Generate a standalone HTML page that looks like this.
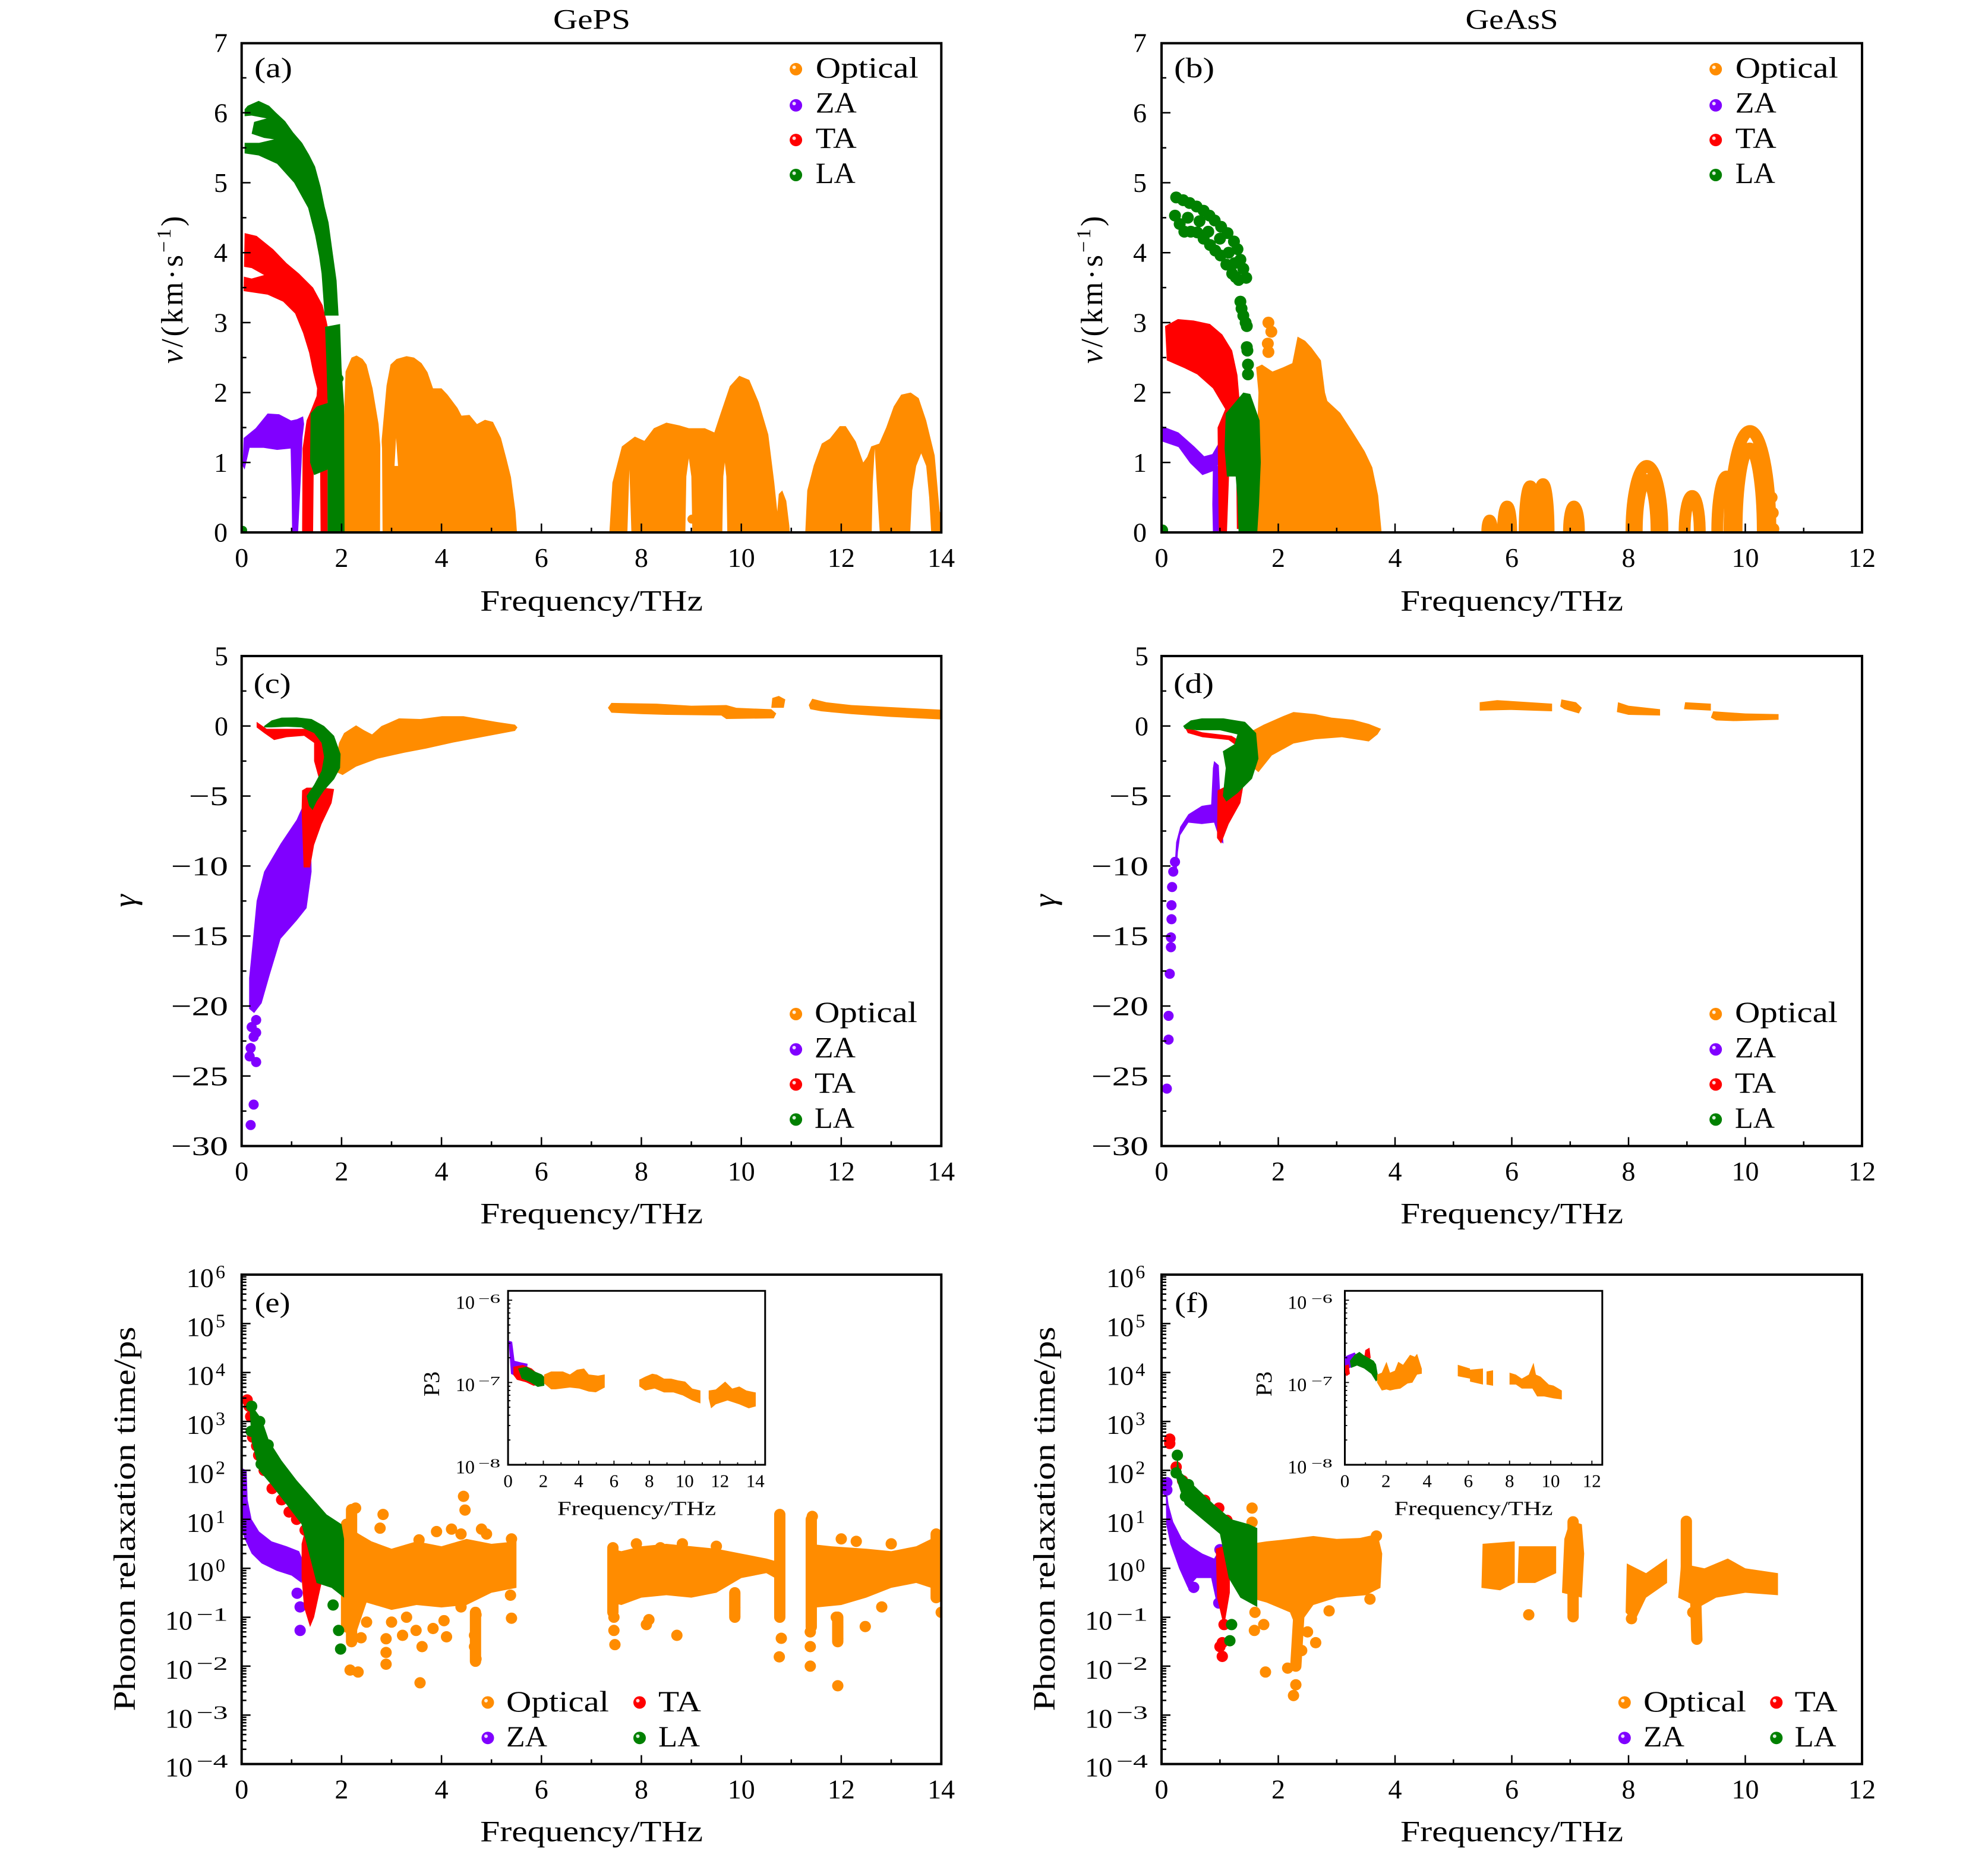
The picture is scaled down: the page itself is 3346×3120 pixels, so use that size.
<!DOCTYPE html>
<html><head><meta charset="utf-8">
<style>
html,body{margin:0;padding:0;background:#fff}
svg{display:block}
text{font-family:"Liberation Serif","DejaVu Serif",serif;fill:#000}
.d{fill:none;stroke-linecap:round;stroke-linejoin:round;vector-effect:non-scaling-stroke}
.o{stroke:#FF8C00}.p{stroke:#8000FF}.r{stroke:#FF0000}.g{stroke:#008000}
.fo{fill:#FF8C00}.fp{fill:#8000FF}.fr{fill:#FF0000}.fg{fill:#008000}.fw{fill:#fff}
.ax{fill:none;stroke:#000;stroke-width:4}
.axi{fill:#fff;stroke:#000;stroke-width:3}
.tk{fill:none;stroke:#000;stroke-width:2.5}
.tki{fill:none;stroke:#000;stroke-width:1.8}
.t46{font-size:46px}
.lg{font-size:50px}
.hl{fill:#fff;opacity:.85}
</style></head><body>
<svg width="3346" height="3120" viewBox="0 0 3346 3120" xmlns="http://www.w3.org/2000/svg">
<defs>
<clipPath id="ca"><rect x="406.7" y="72.7" width="1177.6" height="823.3"/></clipPath>
<clipPath id="cb"><rect x="1955" y="72.7" width="1179" height="823.3"/></clipPath>
<clipPath id="cc"><rect x="406.7" y="1104" width="1177.6" height="824.6"/></clipPath>
<clipPath id="cd"><rect x="1955" y="1104" width="1179" height="824.6"/></clipPath>
<clipPath id="ce"><rect x="406.7" y="2145" width="1177.6" height="823.6"/></clipPath>
<clipPath id="cf"><rect x="1955" y="2145" width="1179" height="823.6"/></clipPath>
<path id="yta" class="tk" d="M0 778.3h15M0 660.6h15M0 542.9h15M0 425.2h15M0 307.5h15M0 189.8h15M0 837.2h8M0 719.5h8M0 601.8h8M0 484h8M0 366.4h8M0 248.7h8M0 131h8"/>
<path id="ytc" class="tk" d="M0 1221.8h15M0 1339.6h15M0 1457.4h15M0 1575.2h15M0 1693h15M0 1810.8h15M0 1162.9h8M0 1280.7h8M0 1398.5h8M0 1516.3h8M0 1634.1h8M0 1751.9h8M0 1869.7h8"/>
<path id="yte" class="tk" d="M0 2227.4h15M0 2309.7h15M0 2392.1h15M0 2474.4h15M0 2556.8h15M0 2639.2h15M0 2721.6h15M0 2803.9h15M0 2886.3h15"/>
<path id="dec" class="tk" d="M0 -24.8h8M0 -39.3h8M0 -49.6h8M0 -57.6h8M0 -64.1h8M0 -69.6h8M0 -74.4h8M0 -78.6h8"/>
<path id="xta" class="tk" d="M574.9 0v-15M743.1 0v-15M911.3 0v-15M1079.5 0v-15M1247.7 0v-15M1415.9 0v-15M490.8 0v-8M659 0v-8M827.2 0v-8M995.4 0v-8M1163.6 0v-8M1331.8 0v-8M1500 0v-8"/>
<path id="xtb" class="tk" d="M2151.5 0v-15M2348 0v-15M2544.5 0v-15M2741 0v-15M2937.5 0v-15M2053.3 0v-8M2249.8 0v-8M2446.3 0v-8M2642.8 0v-8M2839.3 0v-8M3035.8 0v-8"/>
<path id="yti" class="tki" d="M0 2188h7M0 2326.5h7M0 2284.8h4M0 2260.4h4M0 2243.1h4M0 2229.7h4M0 2218.7h4M0 2209.5h4M0 2201.4h4M0 2194.3h4M0 2423.3h4M0 2398.9h4M0 2381.6h4M0 2368.2h4M0 2357.2h4M0 2348h4M0 2339.9h4M0 2332.8h4"/>
</defs>

<!-- ===== Titles ===== -->
<text x="931" y="48.7" font-size="48" textLength="130" lengthAdjust="spacingAndGlyphs">GePS</text>
<text x="2466.5" y="48.7" font-size="48" textLength="156" lengthAdjust="spacingAndGlyphs">GeAsS</text>

<!-- ===== Panel A ===== -->
<g clip-path="url(#ca)"><g transform="translate(406.7 896) scale(84.1 -117.7)">
<path class="fo" d="M2.03 0L2.04 1.5L2.08 2.3L2.2 2.5L2.3 2.53L2.42 2.48L2.5 2.4L2.62 2.06L2.74 1.55L2.78 1.2L2.8 1.3L2.9 2.1L2.98 2.4L3.1 2.48L3.3 2.52L3.45 2.5L3.6 2.42L3.72 2.29L3.83 2.06L4 2.06L4.12 1.97L4.32 1.78L4.4 1.67L4.56 1.68L4.71 1.55L4.87 1.61L5.03 1.58L5.19 1.35L5.3 1.05L5.39 0.79L5.48 0.3L5.51 0Z M7.36 0L7.42 0.71L7.61 1.23L7.87 1.37L8.06 1.31L8.25 1.49L8.5 1.57L8.76 1.53L8.95 1.49L9.27 1.49L9.46 1.43L9.58 1.69L9.77 2.09L9.96 2.24L10.16 2.18L10.35 1.86L10.54 1.4L10.66 0.71L10.72 0.3L10.75 0.55L10.82 0.6L10.9 0.45L10.96 0.1L10.97 0Z M11.28 0L11.32 0.6L11.45 0.96L11.61 1.27L11.77 1.34L11.97 1.52L12.09 1.52L12.29 1.3L12.44 1L12.52 1.08L12.6 1.23L12.76 1.27L12.9 1.5L13.05 1.8L13.2 1.97L13.39 2L13.55 1.92L13.7 1.6L13.87 1.1L13.97 0.3L14.1 0.14L14.1 0Z"/>
<path class="fw" d="M2.77 0L2.775 1.3L2.79 1.45L2.81 1.2L2.82 0Z M8.88 0L8.9 0.8L8.95 1.06L9 0.8L9.02 0Z M9.62 0L9.64 0.8L9.67 1L9.7 0.8L9.72 0Z M13.38 0L13.42 0.6L13.5 0.95L13.6 1.13L13.7 0.95L13.76 0.5L13.8 0Z M12.61 0L12.63 0.7L12.67 1.2L12.71 0.7L12.77 0Z M3.06 0.95L3.09 1.35L3.13 0.95Z M7.72 0L7.76 0.9L7.8 0Z"/>
<path class="d o" stroke-width="15" d="M9.01 0.19h0.001"/>
<path class="fp" d="M0.02 0.95L0.04 1.35L0.28 1.49L0.52 1.7L0.75 1.69L0.99 1.6L1.11 1.62L1.23 1.66L1.25 1.55L1.2 1.25L0.99 1.2L0.71 1.18L0.44 1.21L0.16 1.21L0.06 0.9Z M0.99 1.6L1.23 1.6L1.2 1L1.13 0L1.01 0L1 0.6L0.98 1.2Z"/>
<path class="fr" d="M0.06 4.28L0.3 4.24L0.63 4.05L0.9 3.85L1.15 3.7L1.43 3.5L1.62 3.25L1.7 3.02L1.78 2.74L1.84 2.45L1.87 2.17L1.85 1.95L1.72 1.9L1.72 0L1.58 0L1.57 1L1.56 1.6L1.45 1.5L1.43 0L1.21 0L1.22 1.2L1.3 1.6L1.39 1.75L1.5 1.95L1.51 2.06L1.43 2.29L1.35 2.57L1.23 2.85L1.07 3.13L0.83 3.3L0.52 3.4L0.04 3.45Z"/>
<path class="fw" d="M0.03 3.8L0.2 3.78L0.45 3.68L0.2 3.63L0.03 3.66Z"/>
<path class="fg" d="M0.06 6.05L0.12 6.1L0.34 6.17L0.55 6.1L0.69 6L0.87 5.88L1.03 5.72L1.21 5.57L1.35 5.4L1.47 5.23L1.58 4.94L1.66 4.66L1.74 4.43L1.82 4.01L1.9 3.6L1.94 3.1L1.66 3.1L1.64 3.3L1.6 3.7L1.55 3.95L1.47 4.25L1.33 4.64L1.05 5L0.71 5.27L0.34 5.39L0.06 5.42Z M1.67 2.94L1.97 2.98L2 2.35L2.05 1.8L2.06 0L1.72 0L1.72 1.85L1.7 2.35Z M1.38 1.7L1.5 1.8L1.72 1.85L1.72 0.9L1.45 0.82L1.37 1Z"/>
<path class="fw" d="M0.05 5.95L0.2 5.96L0.5 5.92L0.25 5.87L0.2 5.7L0.45 5.64L0.65 5.62L0.35 5.57L0.05 5.57Z"/>
<path class="d g" stroke-width="15" d="M0.02 0.03h0.001M1.95 2.2h0.001M1.9 2.1h0.001"/>
</g></g>

<!-- ===== Panel B ===== -->
<g clip-path="url(#cb)"><g transform="translate(1955 896) scale(98.25 -117.7)">
<path class="fo" d="M1.62 0L1.63 1.2L1.66 2L1.62 2.36L1.72 2.4L1.9 2.3L2.08 2.36L2.24 2.42L2.33 2.8L2.46 2.74L2.57 2.64L2.73 2.46L2.8 2L2.84 1.88L3.06 1.71L3.27 1.44L3.48 1.16L3.61 0.93L3.71 0.53L3.77 0Z"/>
<path class="d o" stroke-width="20" d="M1.83 3h0.001M1.88 2.87h0.001M1.82 2.7h0.001M1.83 2.58h0.001M10.47 0.28h0.001M10.48 0.05h0.001M10.45 0.5h0.001"/>
<path class="d o" stroke-width="20" d="M5.58 0C5.58 .094 5.598 .17 5.62 .17C5.642 .17 5.66 .094 5.66 0 M5.85 0C5.85 .204 5.881 .37 5.92 .37C5.959 .37 5.99 .204 5.99 0 M6.22 0C6.22 .364 6.263 .66 6.315 .66C6.367 .66 6.41 .364 6.41 0 M6.44 0C6.44 .381 6.483 .69 6.535 .69C6.587 .69 6.63 .381 6.63 0 M6.98 0C6.98 .204 7.018 .37 7.065 .37C7.112 .37 7.15 .204 7.15 0 M8.05 0C8.05 .524 8.169 .95 8.315 .95C8.461 .95 8.58 .524 8.58 0 M8.14 0C8.14 .414 8.216 .75 8.31 .75C8.404 .75 8.48 .414 8.48 0 M8.96 0C8.96 .287 9.018 .52 9.09 .52C9.162 .52 9.22 .287 9.22 0 M9.52 0C9.52 .442 9.592 .8 9.68 .8C9.768 .8 9.84 .442 9.84 0 M9.73 0C9.73 .8 9.887 1.45 10.08 1.45C10.273 1.45 10.43 .8 10.43 0 M9.85 0C9.85 .662 9.951 1.2 10.075 1.2C10.199 1.2 10.3 .662 10.3 0"/>
<path class="fp" d="M0.01 1.52L0.29 1.43L0.56 1.23L0.73 1.09L0.87 1.12L0.98 1.28L1 1.1L0.95 0.9L0.83 0.86L0.7 0.82L0.49 0.99L0.29 1.22L0.01 1.3Z M0.88 0.95L0.97 0.95L0.98 0.6L1.06 0.3L1.05 0L0.88 0L0.87 0.4Z"/>
<path class="fr" d="M0.06 2.95L0.28 3.05L0.55 3.03L0.83 2.98L1.04 2.83L1.21 2.6L1.3 2.25L1.34 1.86L1.3 1.6L1.2 1.58L1.1 1.75L0.88 2.06L0.61 2.26L0.39 2.35L0.09 2.46Z M0.96 1.5L1.12 1.82L1.32 1.9L1.3 1.45L1.17 1.2L1.16 0.9L1.12 0L0.98 0L0.97 0.7Z M1.28 0.84L1.36 0.9L1.35 0.05L1.29 0.05Z"/>
<path class="fg" d="M1.1 1.7L1.4 2L1.52 1.98L1.68 1.6L1.7 1L1.67 0.4L1.64 0L1.32 0L1.3 0.5L1.27 0.8L1.12 0.8L1.08 1.2Z"/>
<path class="d g" stroke-width="20" d="M0.25 4.79h.001M0.37 4.75h.001M0.48 4.71h.001M0.6 4.66h.001M0.72 4.6h.001M0.82 4.53h.001M0.91 4.46h.001M1.02 4.37h.001M1.13 4.28h.001M1.24 4.16h.001M1.3 4.05h.001M1.35 3.9h.001M1.4 3.77h.001M1.45 3.64h.001M0.23 4.53h.001M0.31 4.41h.001M0.39 4.3h.001M0.5 4.3h.001M0.61 4.29h.001M0.72 4.2h.001M0.83 4.11h.001M0.92 4.03h.001M1.01 3.96h.001M1.11 3.83h.001M1.21 3.7h.001M1.27 3.65h.001M1.32 3.61h.001M0.45 4.5h.001M0.65 4.45h.001M0.8 4.3h.001M1 4.2h.001M1.15 4h.001M1.25 3.85h.001M1.35 3.3h.001M1.37 3.2h.001M1.4 3.1h.001M1.44 3h.001M1.46 2.95h.001M1.46 2.65h.001M1.47 2.6h.001M1.48 2.4h.001M1.48 2.26h.001M0.01 0.03h.001"/>
</g></g>

<!-- ===== Panel C ===== -->
<g clip-path="url(#cc)"><g transform="translate(406.7 1221.8) scale(84.1 -23.56)">
<path class="fo" d="M1.85 -3.2L1.95 -1.2L2.05 -0.5L2.29 0.05L2.45 -0.3L2.61 -0.6L2.8 0L2.93 0.2L3.15 0.55L3.58 0.5L4.01 0.7L4.44 0.7L5.09 0.3L5.47 0.1L5.52 -0.1L5.47 -0.35L4.87 -0.75L4.23 -1.18L3.69 -1.61L3.26 -1.9L2.72 -2.33L2.29 -2.9L2.02 -3.5Z M7.33 1.3L7.4 1.65L8.3 1.6L9 1.45L9.7 1.5L9.9 1.3L10.6 1.2L10.7 0.9L10.65 0.55L9.7 0.5L9.6 0.75L8.5 0.8L8 0.85L7.4 0.95Z M10.6 1.3L10.62 2L10.75 2.15L10.88 1.9L10.85 1.3Z M11.35 1.5L11.42 1.95L11.7 1.7L12.2 1.5L13 1.35L14.1 1.15L14.1 0.45L13 0.65L12.2 0.85L11.6 1.05L11.38 1.2Z"/>
<path class="fp" d="M1.25 -5.5L1.38 -6.5L1.4 -10.4L1.3 -13L1.1 -13.9L0.78 -15.2L0.56 -17.8L0.4 -19.8L0.25 -20.5L0.15 -20.2L0.15 -18L0.22 -15.5L0.3 -12.5L0.45 -10.4L0.78 -8.4L1.1 -6.7Z"/>
<path class="d p" stroke-width="17" d="M0.24 -27.04h.001M0.18 -28.5h.001M0.29 -21h.001M0.29 -21.9h.001M0.29 -24h.001M0.18 -23h.001M0.16 -23.6h.001M0.24 -22.2h.001M0.2 -21.5h.001"/>
<path class="fr" d="M0.3 0.3L0.5 -0.2L0.9 -0.2L1.4 -0.2L1.62 -0.9L1.7 -2.3L1.66 -3.5L1.55 -3.8L1.45 -2.5L1.45 -1.2L1.25 -0.7L0.9 -0.8L0.65 -1L0.45 -0.5L0.3 -0.1Z M1.21 -4.6L1.3 -4.4L1.62 -4.4L1.85 -4.5L1.8 -5.5L1.6 -7L1.45 -8.5L1.37 -10.1L1.24 -10.1L1.22 -8L1.2 -6Z"/>
<path class="fg" d="M0.45 0L0.6 0.4L0.8 0.6L1.1 0.62L1.4 0.5L1.65 0L1.85 -0.7L1.98 -2L1.97 -3L1.85 -3.8L1.65 -4.6L1.5 -5.4L1.42 -6L1.35 -5.7L1.3 -5L1.45 -4.2L1.6 -3.2L1.65 -2.2L1.6 -1.2L1.45 -0.5L1.2 -0.1L0.9 -0.05L0.6 -0.1L0.45 -0.1Z"/>
</g></g>

<!-- ===== Panel D ===== -->
<g clip-path="url(#cd)"><g transform="translate(1955 1221.8) scale(98.25 -23.56)">
<path class="fo" d="M1.52 -2.8L1.57 -0.3L1.75 0.1L2.08 0.7L2.26 1L2.63 0.85L2.91 0.6L3.28 0.45L3.55 0.15L3.76 -0.2L3.7 -0.6L3.55 -1.1L3.09 -0.8L2.63 -0.95L2.26 -1.25L1.89 -2.1L1.66 -3.3Z M5.45 1.1L5.45 1.7L5.75 1.85L6.69 1.6L6.69 1.05L6 1.15Z M6.83 1.4L6.85 1.9L7.1 1.7L7.2 1.3L7.15 0.9L6.9 1.2Z M7.8 1L7.82 1.7L8 1.45L8.54 1.2L8.54 0.75L8 0.8Z M8.95 1.2L8.97 1.7L9.41 1.6L9.41 1.1Z M9.41 0.6L9.45 1.05L10 0.9L10.57 0.85L10.57 0.45L9.8 0.35L9.5 0.4Z"/>
<path class="fp" d="M0.22 -10.3L0.25 -8.3L0.32 -7.2L0.46 -6.3L0.69 -5.7L0.85 -5.6L0.88 -3L0.9 -2.5L0.98 -2.8L1 -4.5L1.06 -8.4L1 -8.2L0.9 -6.9L0.69 -7L0.46 -6.9L0.32 -7.8L0.28 -9L0.26 -10.3Z"/>
<path class="d p" stroke-width="17" d="M0.09 -25.9h.001M0.12 -22.4h.001M0.12 -20.7h.001M0.14 -17.7h.001M0.16 -15.8h.001M0.16 -15.1h.001M0.17 -13.8h.001M0.17 -12.8h.001M0.18 -11.5h.001M0.2 -10.4h.001M0.23 -9.7h.001"/>
<path class="fr" d="M0.4 -0.1L0.7 -0.45L1.2 -0.7L1.4 -1.2L1.35 -1.6L1.15 -1L0.7 -0.8L0.45 -0.5Z M0.96 -4.6L1.25 -4L1.4 -4.3L1.35 -5.5L1.15 -7L1.02 -8.4L0.95 -8Z"/>
<path class="fg" d="M0.37 0L0.5 0.4L0.69 0.55L1.06 0.55L1.43 0.3L1.62 -0.5L1.66 -2.33L1.55 -3.76L1.3 -4.8L1.11 -5.4L1.05 -5L1.1 -3L1.05 -1.8L1.25 -1.3L1.3 -0.6L1 -0.3L0.6 -0.3L0.4 -0.2Z"/>
</g></g>

<!-- ===== Panel E ===== -->
<g clip-path="url(#ce)"><g transform="translate(406.7 2639.2) scale(84.1 -82.36)">
<path class="fo" d="M2 -0.3L2.05 0.5L2.2 0.8L2.35 0.7L2.6 0.55L3 0.4L3.5 0.55L4 0.45L4.5 0.6L5 0.5L5.5 0.55L5.5 -0.4L5 -0.5L4.5 -0.75L4 -0.8L3.5 -0.75L3 -0.85L2.5 -0.7L2.3 -1.3L2.15 -1.5L2.05 -1.2Z M7.38 -0.7L7.38 0.4L7.6 0.35L8 0.45L8.5 0.5L9 0.45L9.5 0.4L10 0.3L10.5 0.2L10.85 0.1L10.85 -0.3L10.5 -0.1L10 -0.2L9.5 -0.5L9 -0.6L8.5 -0.55L8 -0.6L7.6 -0.75Z M11.3 -0.6L11.35 0.5L11.8 0.45L12.5 0.4L13 0.35L13.5 0.45L13.8 0.6L14.1 0.55L14.1 -0.5L13.5 -0.3L13 -0.4L12.5 -0.6L12 -0.75L11.5 -0.8Z"/>
<path class="d o" stroke-width="19" d="M10.77 1.1L10.77 -1M7.43 0.4L7.43 -0.9M11.4 1L11.4 -1.2M2.2 1.2L2.2 -1.5M2.1 0.9L2.1 -1.2M4.68 -0.9L4.68 -1.9M9.87 -0.5L9.87 -1M11.93 -1L11.93 -1.5M13.9 0.7L13.9 -0.6M2.28 1.23h.001M2.83 1.1h.001M2.77 0.82h.001M4.44 1.47h.001M4.47 1.19h.001M4.39 0.7h.001M3.55 0.58h.001M5.4 0.6h.001M2.17 -2.08h.001M2.33 -2.12h.001M3.57 -2.34h.001M2.89 -1.96h.001M2.89 -1.72h.001M2.39 -1.42h.001M2.89 -1.44h.001M3.22 -1.37h.001M3.49 -1.27h.001M3.83 -1.23h.001M4.1 -1.4h.001M4.66 -1.37h.001M4.66 -1.6h.001M4.69 -1.85h.001M4.69 -0.95h.001M5.4 -1.02h.001M5.38 -0.55h.001M3.61 -1.6h.001M4.05 -1.07h.001M4.39 -0.79h.001M2.2 1h.001M2.25 -1h.001M2.5 -1.1h.001M3 -1.1h.001M3.3 -1h.001M4.8 0.8h.001M4.9 0.7h.001M3.9 0.75h.001M4.2 0.8h.001M7.43 0.42h.001M7.45 -1.27h.001M7.47 -1.56h.001M7.45 -1h.001M8.1 -1.15h.001M8.15 -1.05h.001M8.71 -1.37h.001M9.87 -0.99h.001M9.87 -0.8h.001M8.38 0.42h.001M8.82 0.5h.001M7.9 0.5h.001M9.5 0.45h.001M10.76 -1.81h.001M10.8 -1.43h.001M11.38 -1.3h.001M11.38 -1.6h.001M11.38 -2h.001M11.93 -2.4h.001M11.93 -1.44h.001M11.93 -1.2h.001M11.9 -1h.001M12.48 -1.19h.001M12.81 -0.79h.001M13.92 -0.56h.001M14 -0.9h.001M12 0.6h.001M12.3 0.55h.001M13 0.5h.001M13.9 0.3h.001M11.42 1.06h.001"/>
<path class="fp" d="M0 2.05L0.1 2L0.12 1.4L0.2 1L0.35 0.75L0.6 0.55L0.9 0.45L1.15 0.35L1.25 0.1L1.2 -0.3L1 -0.15L0.7 -0.05L0.4 0.1L0.2 0.3L0.06 0.6L0 0.8Z"/>
<path class="d p" stroke-width="19" d="M1.11 -0.51h.001M1.17 -0.79h.001M1.17 -1.27h.001"/>
<path class="fr" d="M1.2 0.5L1.3 0.9L1.45 1L1.6 0.7L1.6 -0.3L1.45 -1L1.37 -1.2L1.25 -0.8L1.2 -0.2Z"/>
<path class="d r" stroke-width="19" d="M0.11 3.44h.001M0.15 3.31h.001M0.18 3.1h.001M0.22 2.68h.001M0.3 2.5h.001M0.34 2.31h.001M0.45 2h.001M0.61 1.63h.001M0.8 1.4h.001M0.95 1.15h.001M1.1 1h.001M1.27 0.78h.001"/>
<path class="fg" d="M0.15 3.4L0.4 3.05L0.55 2.6L0.8 2.2L1.1 1.8L1.4 1.45L1.7 1.1L2 0.9L2.05 0.6L2.05 -0.6L1.8 -0.4L1.5 -0.3L1.35 0.3L1.2 0.9L0.9 1.3L0.6 1.7L0.35 2L0.2 2.6Z"/>
<path class="d g" stroke-width="19" d="M0.2 3.31h.001M0.36 3h.001M0.19 2.8h.001M1.83 -0.75h.001M1.94 -1.27h.001M1.98 -1.65h.001M0.39 2.68h.001M0.53 2.52h.001M0.39 2.13h.001"/>
</g></g>

<!-- ===== Panel F ===== -->
<g clip-path="url(#cf)"><g transform="translate(1955 2639.2) scale(98.25 -82.36)">
<path class="fo" d="M1.5 -0.6L1.52 0.5L1.8 0.55L2.2 0.6L2.6 0.66L3 0.6L3.4 0.62L3.7 0.7L3.78 0.3L3.75 -0.4L3.5 -0.55L3 -0.6L2.6 -0.75L2.45 -1L2.3 -1.2L2.2 -0.9L1.8 -0.7Z M5.48 -0.4L5.5 0.5L6.05 0.55L6.05 -0.3L5.8 -0.45Z M6.1 -0.3L6.12 0.45L6.76 0.45L6.76 -0.1L6.4 -0.3Z M6.86 -0.5L6.9 0.6L7 0.98L7.2 0.9L7.24 0.3L7.2 -0.6Z M7.95 -0.9L7.97 0.1L8.3 -0.1L8.66 0.2L8.66 -0.3L8.3 -0.6L8.1 -1.1Z M8.85 -0.6L8.9 0.1L9.3 0L9.7 0.2L10 0L10.56 -0.1L10.56 -0.55L10 -0.5L9.5 -0.6L9.2 -0.8Z"/>
<path class="d o" stroke-width="19" d="M8.99 0.96L8.99 -0.4M9.15 -0.6L9.17 -1.45M2.35 -1L2.3 -2M7.05 0.95L7.05 -0.99M2.26 -2.6h.001M2.3 -2.38h.001M2.4 -1.68h.001M2.16 -2.04h.001M1.78 -2.12h.001M2.64 -1.52h.001M2.87 -0.87h.001M1.59 -1.27h.001M1.75 -1.15h.001M3.57 -0.63h.001M1.55 1.23h.001M1.55 0.94h.001M3.68 0.66h.001M2.5 -1.3h.001M1.6 -0.9h.001M6.29 -0.95h.001M8.05 -1.03h.001M9.1 -0.9h.001"/>
<path class="fp" d="M0.07 1.8L0.12 1.3L0.2 0.95L0.35 0.6L0.5 0.45L0.7 0.3L0.9 0.2L1 0.4L1.05 0L1 -0.5L0.95 -0.75L0.85 -0.2L0.6 -0.2L0.45 -0.4L0.3 0L0.15 0.5L0.08 0.9Z"/>
<path class="d p" stroke-width="19" d="M1 0.38h.001M0.55 -0.39h.001M0.98 -0.71h.001M0.09 1.75h.001M0.09 1.6h.001"/>
<path class="fr" d="M0.93 0.4L1.17 0.5L1.17 -0.5L1.07 -1.2L0.95 -0.6Z"/>
<path class="d r" stroke-width="19" d="M0.14 2.64h.001M0.14 2.55h.001M0.25 2.07h.001M0.36 1.79h.001M0.5 1.55h.001M0.74 1.39h.001M0.98 1.23h.001M1.12 0.98h.001M1.04 -1.8h.001M1.04 -1.52h.001M1.07 -1.15h.001M1 -1.6h.001"/>
<path class="fg" d="M0.27 2.35L0.3 2L0.55 1.7L0.9 1.3L1.2 1L1.5 0.9L1.64 0.82L1.64 -0.79L1.35 -0.6L1.15 -0.2L1 0.7L0.7 1L0.4 1.3L0.25 1.85Z"/>
<path class="d g" stroke-width="19" d="M0.27 2.31h.001M0.25 1.95h.001M1.2 -1.15h.001M1.17 -1.48h.001M0.41 1.47h.001M0.46 1.71h.001"/>
</g></g>

<!-- ===== Axes frames ===== -->
<rect class="ax" x="406.7" y="72.7" width="1177.6" height="823.3"/>
<rect class="ax" x="1955" y="72.7" width="1179" height="823.3"/>
<rect class="ax" x="406.7" y="1104" width="1177.6" height="824.6"/>
<rect class="ax" x="1955" y="1104" width="1179" height="824.6"/>
<rect class="ax" x="406.7" y="2145" width="1177.6" height="823.6"/>
<rect class="ax" x="1955" y="2145" width="1179" height="823.6"/>

<!-- ticks -->
<use href="#yta" x="406.7"/><use href="#yta" x="1955"/>
<use href="#ytc" x="406.7"/><use href="#ytc" x="1955"/>
<use href="#yte" x="406.7"/><use href="#yte" x="1955"/>
<use href="#xta" y="896"/><use href="#xta" y="1928.6"/><use href="#xta" y="2968.6"/>
<use href="#xtb" y="896"/><use href="#xtb" y="1928.6"/><use href="#xtb" y="2968.6"/>
<use href="#dec" x="406.7" y="2968.6"/><use href="#dec" x="406.7" y="2886.3"/><use href="#dec" x="406.7" y="2803.9"/><use href="#dec" x="406.7" y="2721.6"/><use href="#dec" x="406.7" y="2639.2"/><use href="#dec" x="406.7" y="2556.8"/><use href="#dec" x="406.7" y="2474.4"/><use href="#dec" x="406.7" y="2392.1"/><use href="#dec" x="406.7" y="2309.7"/><use href="#dec" x="406.7" y="2227.4"/>
<use href="#dec" x="1955" y="2968.6"/><use href="#dec" x="1955" y="2886.3"/><use href="#dec" x="1955" y="2803.9"/><use href="#dec" x="1955" y="2721.6"/><use href="#dec" x="1955" y="2639.2"/><use href="#dec" x="1955" y="2556.8"/><use href="#dec" x="1955" y="2474.4"/><use href="#dec" x="1955" y="2392.1"/><use href="#dec" x="1955" y="2309.7"/><use href="#dec" x="1955" y="2227.4"/>

<!-- ===== Y tick labels ===== -->
<g class="t46" font-size="46" text-anchor="end">
<text x="383" y="911.5">0</text><text x="383" y="793.8">1</text><text x="383" y="676.1">2</text><text x="383" y="558.4">3</text><text x="383" y="440.7">4</text><text x="383" y="323">5</text><text x="383" y="205.3">6</text><text x="383" y="87.6">7</text>
<text x="1930" y="911.5">0</text><text x="1930" y="793.8">1</text><text x="1930" y="676.1">2</text><text x="1930" y="558.4">3</text><text x="1930" y="440.7">4</text><text x="1930" y="323">5</text><text x="1930" y="205.3">6</text><text x="1930" y="87.6">7</text>
<text x="384" y="1119.5">5</text><text x="384" y="1237.3">0</text>
<text x="1933" y="1119.5">5</text><text x="1933" y="1237.3">0</text>
</g>
<g font-size="46">
<text x="318" y="1355.1" textLength="66" lengthAdjust="spacingAndGlyphs">−5</text>
<text x="288" y="1472.9" textLength="96" lengthAdjust="spacingAndGlyphs">−10</text>
<text x="288" y="1590.7" textLength="96" lengthAdjust="spacingAndGlyphs">−15</text>
<text x="288" y="1708.5" textLength="96" lengthAdjust="spacingAndGlyphs">−20</text>
<text x="288" y="1826.3" textLength="96" lengthAdjust="spacingAndGlyphs">−25</text>
<text x="288" y="1944.1" textLength="96" lengthAdjust="spacingAndGlyphs">−30</text>
<text x="1867" y="1355.1" textLength="66" lengthAdjust="spacingAndGlyphs">−5</text>
<text x="1837" y="1472.9" textLength="96" lengthAdjust="spacingAndGlyphs">−10</text>
<text x="1837" y="1590.7" textLength="96" lengthAdjust="spacingAndGlyphs">−15</text>
<text x="1837" y="1708.5" textLength="96" lengthAdjust="spacingAndGlyphs">−20</text>
<text x="1837" y="1826.3" textLength="96" lengthAdjust="spacingAndGlyphs">−25</text>
<text x="1837" y="1944.1" textLength="96" lengthAdjust="spacingAndGlyphs">−30</text>
</g>
<!-- log labels e -->
<g font-size="46">
<text x="313.8" y="2166">10</text><text x="313.8" y="2248.4">10</text><text x="313.8" y="2330.7">10</text><text x="313.8" y="2413.1">10</text><text x="313.8" y="2495.4">10</text><text x="313.8" y="2577.8">10</text><text x="313.8" y="2660.2">10</text>
<text x="278" y="2742.6">10</text><text x="278" y="2824.9">10</text><text x="278" y="2907.3">10</text><text x="278" y="2989.6">10</text>
<text x="1862.1" y="2166">10</text><text x="1862.1" y="2248.4">10</text><text x="1862.1" y="2330.7">10</text><text x="1862.1" y="2413.1">10</text><text x="1862.1" y="2495.4">10</text><text x="1862.1" y="2577.8">10</text><text x="1862.1" y="2660.2">10</text>
<text x="1826.3" y="2742.6">10</text><text x="1826.3" y="2824.9">10</text><text x="1826.3" y="2907.3">10</text><text x="1826.3" y="2989.6">10</text>
</g>
<g font-size="32">
<text x="363" y="2151">6</text><text x="363" y="2233.4">5</text><text x="363" y="2315.7">4</text><text x="363" y="2398.1">3</text><text x="363" y="2480.4">2</text><text x="363" y="2562.8">1</text><text x="363" y="2645.2">0</text>
<text x="330.6" y="2727.6" textLength="53" lengthAdjust="spacingAndGlyphs">−1</text><text x="330.6" y="2809.9" textLength="53" lengthAdjust="spacingAndGlyphs">−2</text><text x="330.6" y="2892.3" textLength="53" lengthAdjust="spacingAndGlyphs">−3</text><text x="330.6" y="2974.6" textLength="53" lengthAdjust="spacingAndGlyphs">−4</text>
<text x="1911.3" y="2151">6</text><text x="1911.3" y="2233.4">5</text><text x="1911.3" y="2315.7">4</text><text x="1911.3" y="2398.1">3</text><text x="1911.3" y="2480.4">2</text><text x="1911.3" y="2562.8">1</text><text x="1911.3" y="2645.2">0</text>
<text x="1878.9" y="2727.6" textLength="53" lengthAdjust="spacingAndGlyphs">−1</text><text x="1878.9" y="2809.9" textLength="53" lengthAdjust="spacingAndGlyphs">−2</text><text x="1878.9" y="2892.3" textLength="53" lengthAdjust="spacingAndGlyphs">−3</text><text x="1878.9" y="2974.6" textLength="53" lengthAdjust="spacingAndGlyphs">−4</text>
</g>

<!-- ===== X tick labels ===== -->
<g font-size="46" text-anchor="middle">
<text x="406.7" y="954">0</text><text x="574.9" y="954">2</text><text x="743.1" y="954">4</text><text x="911.3" y="954">6</text><text x="1079.5" y="954">8</text><text x="1247.7" y="954">10</text><text x="1415.9" y="954">12</text><text x="1584.1" y="954">14</text>
<text x="1955" y="954">0</text><text x="2151.5" y="954">2</text><text x="2348" y="954">4</text><text x="2544.5" y="954">6</text><text x="2741" y="954">8</text><text x="2937.5" y="954">10</text><text x="3134" y="954">12</text>
<text x="406.7" y="1986.6">0</text><text x="574.9" y="1986.6">2</text><text x="743.1" y="1986.6">4</text><text x="911.3" y="1986.6">6</text><text x="1079.5" y="1986.6">8</text><text x="1247.7" y="1986.6">10</text><text x="1415.9" y="1986.6">12</text><text x="1584.1" y="1986.6">14</text>
<text x="1955" y="1986.6">0</text><text x="2151.5" y="1986.6">2</text><text x="2348" y="1986.6">4</text><text x="2544.5" y="1986.6">6</text><text x="2741" y="1986.6">8</text><text x="2937.5" y="1986.6">10</text><text x="3134" y="1986.6">12</text>
<text x="406.7" y="3026.6">0</text><text x="574.9" y="3026.6">2</text><text x="743.1" y="3026.6">4</text><text x="911.3" y="3026.6">6</text><text x="1079.5" y="3026.6">8</text><text x="1247.7" y="3026.6">10</text><text x="1415.9" y="3026.6">12</text><text x="1584.1" y="3026.6">14</text>
<text x="1955" y="3026.6">0</text><text x="2151.5" y="3026.6">2</text><text x="2348" y="3026.6">4</text><text x="2544.5" y="3026.6">6</text><text x="2741" y="3026.6">8</text><text x="2937.5" y="3026.6">10</text><text x="3134" y="3026.6">12</text>
</g>

<!-- ===== Axis labels ===== -->
<g font-size="50">
<text x="808.1" y="1027.5" textLength="375" lengthAdjust="spacingAndGlyphs">Frequency/THz</text>
<text x="2357" y="1027.5" textLength="375" lengthAdjust="spacingAndGlyphs">Frequency/THz</text>
<text x="808.1" y="2058.6" textLength="375" lengthAdjust="spacingAndGlyphs">Frequency/THz</text>
<text x="2357" y="2058.6" textLength="375" lengthAdjust="spacingAndGlyphs">Frequency/THz</text>
<text x="808.1" y="3098.6" textLength="375" lengthAdjust="spacingAndGlyphs">Frequency/THz</text>
<text x="2357" y="3098.6" textLength="375" lengthAdjust="spacingAndGlyphs">Frequency/THz</text>
</g>
<text transform="translate(307 485.7) rotate(-90)" text-anchor="middle" font-size="52" letter-spacing="4"><tspan font-style="italic">v</tspan>/(km·s<tspan font-size="34" dy="-20">−1</tspan><tspan dy="20">)</tspan></text>
<text transform="translate(1855 485.7) rotate(-90)" text-anchor="middle" font-size="52" letter-spacing="4"><tspan font-style="italic">v</tspan>/(km·s<tspan font-size="34" dy="-20">−1</tspan><tspan dy="20">)</tspan></text>
<text transform="translate(228 1516) rotate(-90)" text-anchor="middle" font-size="54" font-style="italic">γ</text>
<text transform="translate(1776 1516) rotate(-90)" text-anchor="middle" font-size="54" font-style="italic">γ</text>
<text transform="translate(227 2556) rotate(-90)" x="-323.5" y="0" font-size="52" textLength="647" lengthAdjust="spacingAndGlyphs">Phonon relaxation time/ps</text>
<text transform="translate(1775 2556) rotate(-90)" x="-323.5" y="0" font-size="52" textLength="647" lengthAdjust="spacingAndGlyphs">Phonon relaxation time/ps</text>

<!-- ===== Panel labels ===== -->
<g font-size="48">
<text x="428" y="130" textLength="64" lengthAdjust="spacingAndGlyphs">(a)</text>
<text x="1976" y="130" textLength="68" lengthAdjust="spacingAndGlyphs">(b)</text>
<text x="426.7" y="1166" textLength="63" lengthAdjust="spacingAndGlyphs">(c)</text>
<text x="1975" y="1166" textLength="68" lengthAdjust="spacingAndGlyphs">(d)</text>
<text x="428.5" y="2208" textLength="60" lengthAdjust="spacingAndGlyphs">(e)</text>
<text x="1977" y="2208" textLength="57" lengthAdjust="spacingAndGlyphs">(f)</text>
</g>

<!-- ===== Legends ===== -->
<g>
<!-- a -->
<circle cx="1339.6" cy="116.4" r="10.5" fill="#FF8C00"/><circle cx="1336.6" cy="113.4" r="3" class="hl"/>
<circle cx="1339.6" cy="177.3" r="10.5" fill="#8000FF"/><circle cx="1336.6" cy="174.3" r="3" class="hl"/>
<circle cx="1339.6" cy="235.6" r="10.5" fill="#FF0000"/><circle cx="1336.6" cy="232.6" r="3" class="hl"/>
<circle cx="1339.6" cy="294.5" r="10.5" fill="#008000"/><circle cx="1336.6" cy="291.5" r="3" class="hl"/>
<!-- b -->
<circle cx="2887.7" cy="116.4" r="10.5" fill="#FF8C00"/><circle cx="2884.7" cy="113.4" r="3" class="hl"/>
<circle cx="2887.7" cy="177.3" r="10.5" fill="#8000FF"/><circle cx="2884.7" cy="174.3" r="3" class="hl"/>
<circle cx="2887.7" cy="235.6" r="10.5" fill="#FF0000"/><circle cx="2884.7" cy="232.6" r="3" class="hl"/>
<circle cx="2887.7" cy="294.5" r="10.5" fill="#008000"/><circle cx="2884.7" cy="291.5" r="3" class="hl"/>
<!-- c -->
<circle cx="1339.6" cy="1706.5" r="10.5" fill="#FF8C00"/><circle cx="1336.6" cy="1703.5" r="3" class="hl"/>
<circle cx="1339.6" cy="1766" r="10.5" fill="#8000FF"/><circle cx="1336.6" cy="1763" r="3" class="hl"/>
<circle cx="1339.6" cy="1825" r="10.5" fill="#FF0000"/><circle cx="1336.6" cy="1822" r="3" class="hl"/>
<circle cx="1339.6" cy="1884" r="10.5" fill="#008000"/><circle cx="1336.6" cy="1881" r="3" class="hl"/>
<!-- d -->
<circle cx="2887.7" cy="1706.5" r="10.5" fill="#FF8C00"/><circle cx="2884.7" cy="1703.5" r="3" class="hl"/>
<circle cx="2887.7" cy="1766" r="10.5" fill="#8000FF"/><circle cx="2884.7" cy="1763" r="3" class="hl"/>
<circle cx="2887.7" cy="1825" r="10.5" fill="#FF0000"/><circle cx="2884.7" cy="1822" r="3" class="hl"/>
<circle cx="2887.7" cy="1884" r="10.5" fill="#008000"/><circle cx="2884.7" cy="1881" r="3" class="hl"/>
<!-- e -->
<circle cx="821" cy="2865" r="10.5" fill="#FF8C00"/><circle cx="818" cy="2862" r="3" class="hl"/>
<circle cx="821" cy="2924.7" r="10.5" fill="#8000FF"/><circle cx="818" cy="2921.7" r="3" class="hl"/>
<circle cx="1076.5" cy="2865" r="10.5" fill="#FF0000"/><circle cx="1073.5" cy="2862" r="3" class="hl"/>
<circle cx="1076.5" cy="2924.7" r="10.5" fill="#008000"/><circle cx="1073.5" cy="2921.7" r="3" class="hl"/>
<!-- f -->
<circle cx="2734.3" cy="2865" r="10.5" fill="#FF8C00"/><circle cx="2731.3" cy="2862" r="3" class="hl"/>
<circle cx="2734.3" cy="2924.7" r="10.5" fill="#8000FF"/><circle cx="2731.3" cy="2921.7" r="3" class="hl"/>
<circle cx="2989.8" cy="2865" r="10.5" fill="#FF0000"/><circle cx="2986.8" cy="2862" r="3" class="hl"/>
<circle cx="2989.8" cy="2924.7" r="10.5" fill="#008000"/><circle cx="2986.8" cy="2921.7" r="3" class="hl"/>
</g>
<g class="lg" font-size="50">
<text x="1372.8" y="130.6" textLength="173" lengthAdjust="spacingAndGlyphs">Optical</text>
<text x="1372.8" y="189.5" textLength="69" lengthAdjust="spacingAndGlyphs">ZA</text>
<text x="1372.8" y="249" textLength="69" lengthAdjust="spacingAndGlyphs">TA</text>
<text x="1372.8" y="308" textLength="67" lengthAdjust="spacingAndGlyphs">LA</text>
<text x="2920.8" y="130.6" textLength="173" lengthAdjust="spacingAndGlyphs">Optical</text>
<text x="2920.8" y="189.5" textLength="69" lengthAdjust="spacingAndGlyphs">ZA</text>
<text x="2920.8" y="249" textLength="69" lengthAdjust="spacingAndGlyphs">TA</text>
<text x="2920.8" y="308" textLength="67" lengthAdjust="spacingAndGlyphs">LA</text>
<text x="1371" y="1720" textLength="173" lengthAdjust="spacingAndGlyphs">Optical</text>
<text x="1371" y="1779.5" textLength="69" lengthAdjust="spacingAndGlyphs">ZA</text>
<text x="1371" y="1839" textLength="69" lengthAdjust="spacingAndGlyphs">TA</text>
<text x="1371" y="1898" textLength="67" lengthAdjust="spacingAndGlyphs">LA</text>
<text x="2920" y="1720" textLength="173" lengthAdjust="spacingAndGlyphs">Optical</text>
<text x="2920" y="1779.5" textLength="69" lengthAdjust="spacingAndGlyphs">ZA</text>
<text x="2920" y="1839" textLength="69" lengthAdjust="spacingAndGlyphs">TA</text>
<text x="2920" y="1898" textLength="67" lengthAdjust="spacingAndGlyphs">LA</text>
<text x="852" y="2880" textLength="173" lengthAdjust="spacingAndGlyphs">Optical</text>
<text x="852" y="2939" textLength="69" lengthAdjust="spacingAndGlyphs">ZA</text>
<text x="1108" y="2880" textLength="72" lengthAdjust="spacingAndGlyphs">TA</text>
<text x="1108" y="2939" textLength="70" lengthAdjust="spacingAndGlyphs">LA</text>
<text x="2766" y="2880" textLength="173" lengthAdjust="spacingAndGlyphs">Optical</text>
<text x="2766" y="2939" textLength="69" lengthAdjust="spacingAndGlyphs">ZA</text>
<text x="3020.6" y="2880" textLength="72" lengthAdjust="spacingAndGlyphs">TA</text>
<text x="3020.6" y="2939" textLength="70" lengthAdjust="spacingAndGlyphs">LA</text>
</g>

<!-- ===== Inset E ===== -->
<rect class="axi" x="855.1" y="2172.3" width="432.7" height="292.7"/>
<path class="fp" d="M856 2256L862 2258L866 2290L878 2293L888 2295L886 2312L872 2318L860 2312Z"/>
<path class="fr" d="M864 2300L880 2297L895 2303L905 2312L912 2318L912 2330L898 2332L885 2326L870 2322L864 2314Z"/>
<path class="fg" d="M872 2303L886 2300L900 2308L912 2313L917 2318L916 2332L905 2334L892 2326L878 2320Z"/>
<path class="fo" d="M915.7 2313.3L927.6 2308L947.4 2308L959.2 2313L971.1 2305L983 2303L990.9 2313L1006.7 2315L1017.8 2313L1017.8 2335L1002.8 2343L990.9 2341.7L975 2336.7L959.2 2335L935 2338L927.6 2338L915.7 2328Z M1076 2321.7L1085.9 2316.7L1097.8 2311.7L1105.7 2313.3L1117.6 2320L1129.5 2320L1141.3 2323L1153.2 2325L1165.1 2336.7L1178.9 2340L1178.9 2361.7L1165.1 2356.7L1149.2 2348.3L1133.5 2343.3L1117.6 2343.3L1101.8 2336.7L1085.9 2340L1076 2333.3Z M1192.8 2340L1204.7 2338.3L1220.5 2325L1232.4 2336.7L1244.3 2333.3L1256.2 2340L1272 2343.3L1272 2366.7L1260.2 2370L1244.3 2363.3L1224.5 2356.7L1204.7 2363.3L1196.8 2370L1192.8 2353.3Z"/>
<use href="#yti" x="855.1"/>
<path class="tki" d="M914.5 2465v-7M974 2465v-7M1033.4 2465v-7M1092.9 2465v-7M1152.3 2465v-7M1211.7 2465v-7M1271.2 2465v-7M884.8 2465v-4M944.3 2465v-4M1003.7 2465v-4M1063.1 2465v-4M1122.6 2465v-4M1182 2465v-4M1241.5 2465v-4"/>
<g font-size="32">
<text x="767" y="2202.5">10</text><text x="767" y="2341">10</text><text x="767" y="2479.5">10</text>
</g>
<g font-size="21">
<text x="805" y="2192.5" textLength="37" lengthAdjust="spacingAndGlyphs">−6</text>
<text x="805" y="2331" textLength="37" lengthAdjust="spacingAndGlyphs">−7</text>
<text x="805" y="2469.5" textLength="37" lengthAdjust="spacingAndGlyphs">−8</text>
</g>
<g font-size="31" text-anchor="middle">
<text x="855.1" y="2502.7">0</text><text x="914.5" y="2502.7">2</text><text x="974" y="2502.7">4</text><text x="1033.4" y="2502.7">6</text><text x="1092.9" y="2502.7">8</text><text x="1152.3" y="2502.7">10</text><text x="1211.7" y="2502.7">12</text><text x="1271.2" y="2502.7">14</text>
</g>
<text x="938" y="2549.3" font-size="34" textLength="267" lengthAdjust="spacingAndGlyphs">Frequency/THz</text>
<text transform="translate(739 2329) rotate(-90)" x="-21" y="0" font-size="38" textLength="42" lengthAdjust="spacingAndGlyphs">P3</text>

<!-- ===== Inset F ===== -->
<rect class="axi" x="2263.5" y="2172.3" width="433.3" height="292.7"/>
<path class="fp" d="M2263.5 2283L2270 2280L2280 2276L2286 2285L2282 2298L2272 2302L2264 2306Z"/>
<path class="fr" d="M2264 2298L2270 2296L2272 2312L2266 2316L2264 2310Z M2298 2272L2305 2268L2307 2285L2300 2292L2296 2285Z"/>
<path class="fg" d="M2272 2290L2280 2280L2288 2275L2296 2281L2305 2286L2312 2290L2316 2296L2320 2320L2316 2325L2308 2312L2296 2303L2284 2298L2274 2302Z"/>
<path class="fo" d="M2317.8 2313.3L2325.7 2310L2333.6 2291.7L2339.6 2310L2347.5 2306.7L2353.4 2291.7L2361.4 2296.7L2373.2 2280L2381.2 2283.3L2385.1 2278.3L2393 2303.3L2393 2311.7L2385.1 2313.3L2377.2 2326.7L2369 2328.3L2357 2336.7L2347.5 2338.3L2339.6 2340L2333.6 2338.3L2325.7 2340L2317.8 2326.7Z M2453.6 2296.7L2474.2 2303L2474.2 2320L2453.6 2316Z M2474.2 2305L2496 2303L2496 2330L2474.2 2325Z M2502 2308L2513 2306L2513 2332L2502 2330Z M2540.7 2310L2551.4 2313.3L2561.3 2320L2573.2 2313.3L2581.1 2293.3L2585.1 2313.3L2593 2316.7L2606.9 2330L2614.8 2331.7L2628.7 2340L2628.7 2355L2614.8 2353.3L2599 2350L2587.1 2350L2579.2 2336.7L2561.3 2336.7L2551.4 2330L2540.7 2330Z"/>
<use href="#yti" x="2263.5"/>
<path class="tki" d="M2332.8 2465v-7M2402.1 2465v-7M2471.4 2465v-7M2540.7 2465v-7M2610 2465v-7M2679.3 2465v-7M2298.2 2465v-4M2367.5 2465v-4M2436.8 2465v-4M2506.1 2465v-4M2575.4 2465v-4M2644.7 2465v-4"/>
<g font-size="32">
<text x="2167.3" y="2202.5">10</text><text x="2167.3" y="2341">10</text><text x="2167.3" y="2479.5">10</text>
</g>
<g font-size="21">
<text x="2207" y="2192.5" textLength="35.6" lengthAdjust="spacingAndGlyphs">−6</text>
<text x="2207" y="2331" textLength="35.6" lengthAdjust="spacingAndGlyphs">−7</text>
<text x="2207" y="2469.5" textLength="35.6" lengthAdjust="spacingAndGlyphs">−8</text>
</g>
<g font-size="31" text-anchor="middle">
<text x="2263.5" y="2502.7">0</text><text x="2332.8" y="2502.7">2</text><text x="2402.1" y="2502.7">4</text><text x="2471.4" y="2502.7">6</text><text x="2540.7" y="2502.7">8</text><text x="2610" y="2502.7">10</text><text x="2679.3" y="2502.7">12</text>
</g>
<text x="2346.5" y="2549.3" font-size="34" textLength="267" lengthAdjust="spacingAndGlyphs">Frequency/THz</text>
<text transform="translate(2140 2329) rotate(-90)" x="-21" y="0" font-size="38" textLength="42" lengthAdjust="spacingAndGlyphs">P3</text>
</svg>
</body></html>
